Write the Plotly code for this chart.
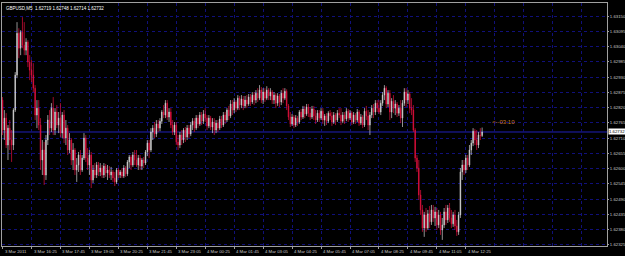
import plotly.graph_objects as go

symbol = "GBPUSD,M5"
countdown_text = "<--03:10"

bar_index = list(range(266))

open_ = [
    1.62847, 1.62739, 1.62782, 1.62685, 1.62746, 1.62703, 1.62685, 1.62811, 1.62937, 1.63088,
    1.63034, 1.63092, 1.63045, 1.63027, 1.63056, 1.62984, 1.62955, 1.62937, 1.62890, 1.62793,
    1.62818, 1.62757, 1.62631, 1.62667, 1.62577, 1.62703, 1.62775, 1.62746, 1.62818, 1.62739,
    1.62804, 1.62757, 1.62782, 1.62728, 1.62793, 1.62710, 1.62746, 1.62667, 1.62703, 1.62631,
    1.62667, 1.62595, 1.62613, 1.62649, 1.62595, 1.62638, 1.62710, 1.62638, 1.62613, 1.62649,
    1.62559, 1.62595, 1.62577, 1.62613, 1.62588, 1.62602, 1.62577, 1.62609, 1.62584, 1.62595,
    1.62577, 1.62588, 1.62566, 1.62552, 1.62595, 1.62577, 1.62588, 1.62573, 1.62602, 1.62581,
    1.62624, 1.62642, 1.62613, 1.62649, 1.62631, 1.62613, 1.62638, 1.62609, 1.62631, 1.62620,
    1.62660, 1.62692, 1.62667, 1.62732, 1.62746, 1.62725, 1.62761, 1.62746, 1.62771, 1.62804,
    1.62793, 1.62836, 1.62786, 1.62804, 1.62757, 1.62732, 1.62757, 1.62696, 1.62685, 1.62721,
    1.62703, 1.62739, 1.62714, 1.62746, 1.62725, 1.62757, 1.62771, 1.62746, 1.62782, 1.62761,
    1.62793, 1.62771, 1.62797, 1.62782, 1.62754, 1.62782, 1.62750, 1.62768, 1.62739, 1.62764,
    1.62746, 1.62779, 1.62757, 1.62793, 1.62775, 1.62811, 1.62790, 1.62833, 1.62811, 1.62840,
    1.62818, 1.62854, 1.62829, 1.62851, 1.62826, 1.62847, 1.62833, 1.62858, 1.62840, 1.62865,
    1.62847, 1.62872, 1.62854, 1.62883, 1.62847, 1.62876, 1.62854, 1.62883, 1.62862, 1.62876,
    1.62847, 1.62865, 1.62836, 1.62862, 1.62840, 1.62872, 1.62854, 1.62879, 1.62826, 1.62786,
    1.62761, 1.62786, 1.62757, 1.62782, 1.62768, 1.62804, 1.62786, 1.62815, 1.62797, 1.62822,
    1.62800, 1.62786, 1.62815, 1.62790, 1.62775, 1.62800, 1.62782, 1.62807, 1.62775, 1.62790,
    1.62771, 1.62800, 1.62790, 1.62768, 1.62793, 1.62775, 1.62800, 1.62793, 1.62771, 1.62793,
    1.62779, 1.62807, 1.62782, 1.62800, 1.62768, 1.62793, 1.62775, 1.62804, 1.62764, 1.62786,
    1.62757, 1.62807, 1.62790, 1.62757, 1.62793, 1.62818, 1.62804, 1.62836, 1.62818, 1.62804,
    1.62836, 1.62865, 1.62890, 1.62833, 1.62872, 1.62804, 1.62843, 1.62818, 1.62833, 1.62800,
    1.62818, 1.62782, 1.62836, 1.62876, 1.62847, 1.62869, 1.62818, 1.62811, 1.62739, 1.62638,
    1.62602, 1.62505, 1.62451, 1.62386, 1.62433, 1.62386, 1.62437, 1.62408, 1.62451, 1.62422,
    1.62444, 1.62397, 1.62433, 1.62379, 1.62397, 1.62444, 1.62415, 1.62458, 1.62422, 1.62401,
    1.62433, 1.62393, 1.62372, 1.62433, 1.62588, 1.62613, 1.62595, 1.62638, 1.62613, 1.62667,
    1.62692, 1.62735, 1.62703, 1.62685, 1.62721, 1.62719,
]

high = [
    1.62858, 1.62811, 1.62800, 1.62757, 1.62775, 1.62739, 1.62818, 1.62948, 1.63128, 1.63106,
    1.63099, 1.63146, 1.63128, 1.63070, 1.63063, 1.63009, 1.62991, 1.62980, 1.62901, 1.62847,
    1.62847, 1.62782, 1.62703, 1.62696, 1.62721, 1.62793, 1.62811, 1.62836, 1.62858, 1.62818,
    1.62829, 1.62804, 1.62836, 1.62804, 1.62811, 1.62775, 1.62757, 1.62728, 1.62710, 1.62692,
    1.62674, 1.62638, 1.62660, 1.62667, 1.62649, 1.62728, 1.62721, 1.62674, 1.62667, 1.62660,
    1.62613, 1.62620, 1.62624, 1.62624, 1.62620, 1.62613, 1.62620, 1.62617, 1.62613, 1.62609,
    1.62606, 1.62595, 1.62588, 1.62602, 1.62602, 1.62595, 1.62602, 1.62613, 1.62609, 1.62631,
    1.62649, 1.62649, 1.62660, 1.62667, 1.62667, 1.62649, 1.62649, 1.62638, 1.62642, 1.62667,
    1.62703, 1.62703, 1.62746, 1.62757, 1.62768, 1.62775, 1.62775, 1.62782, 1.62811, 1.62829,
    1.62847, 1.62847, 1.62818, 1.62818, 1.62775, 1.62768, 1.62768, 1.62721, 1.62732, 1.62739,
    1.62746, 1.62750, 1.62757, 1.62757, 1.62768, 1.62782, 1.62782, 1.62793, 1.62793, 1.62804,
    1.62804, 1.62811, 1.62818, 1.62793, 1.62793, 1.62790, 1.62782, 1.62782, 1.62775, 1.62775,
    1.62790, 1.62790, 1.62804, 1.62804, 1.62818, 1.62826, 1.62847, 1.62847, 1.62854, 1.62847,
    1.62865, 1.62862, 1.62865, 1.62862, 1.62862, 1.62865, 1.62869, 1.62869, 1.62876, 1.62876,
    1.62883, 1.62890, 1.62901, 1.62894, 1.62890, 1.62890, 1.62897, 1.62890, 1.62890, 1.62883,
    1.62876, 1.62872, 1.62872, 1.62869, 1.62883, 1.62890, 1.62890, 1.62886, 1.62833, 1.62804,
    1.62797, 1.62793, 1.62793, 1.62790, 1.62811, 1.62815, 1.62826, 1.62826, 1.62833, 1.62833,
    1.62822, 1.62826, 1.62826, 1.62811, 1.62811, 1.62811, 1.62818, 1.62818, 1.62797, 1.62800,
    1.62807, 1.62811, 1.62804, 1.62804, 1.62800, 1.62811, 1.62818, 1.62818, 1.62804, 1.62804,
    1.62818, 1.62815, 1.62811, 1.62807, 1.62804, 1.62800, 1.62815, 1.62811, 1.62797, 1.62793,
    1.62818, 1.62826, 1.62811, 1.62804, 1.62829, 1.62833, 1.62847, 1.62847, 1.62847, 1.62847,
    1.62876, 1.62901, 1.62897, 1.62883, 1.62883, 1.62854, 1.62865, 1.62847, 1.62840, 1.62829,
    1.62847, 1.62847, 1.62890, 1.62890, 1.62883, 1.62876, 1.62854, 1.62829, 1.62746, 1.62649,
    1.62631, 1.62523, 1.62469, 1.62444, 1.62458, 1.62451, 1.62465, 1.62469, 1.62469, 1.62462,
    1.62458, 1.62451, 1.62444, 1.62422, 1.62458, 1.62469, 1.62469, 1.62476, 1.62451, 1.62444,
    1.62451, 1.62415, 1.62444, 1.62602, 1.62631, 1.62631, 1.62649, 1.62649, 1.62685, 1.62703,
    1.62746, 1.62743, 1.62739, 1.62732, 1.62746, 1.62748,
]

low = [
    1.62721, 1.62703, 1.62674, 1.62631, 1.62667, 1.62624, 1.62667, 1.62804, 1.62926, 1.62998,
    1.63009, 1.63034, 1.63009, 1.63009, 1.62966, 1.62919, 1.62912, 1.62876, 1.62775, 1.62746,
    1.62739, 1.62595, 1.62577, 1.62541, 1.62559, 1.62685, 1.62721, 1.62732, 1.62721, 1.62721,
    1.62746, 1.62728, 1.62714, 1.62710, 1.62692, 1.62685, 1.62649, 1.62656, 1.62613, 1.62595,
    1.62577, 1.62552, 1.62588, 1.62577, 1.62588, 1.62631, 1.62624, 1.62595, 1.62577, 1.62530,
    1.62548, 1.62566, 1.62566, 1.62573, 1.62573, 1.62566, 1.62566, 1.62570, 1.62559, 1.62566,
    1.62559, 1.62552, 1.62537, 1.62545, 1.62566, 1.62566, 1.62566, 1.62566, 1.62570, 1.62573,
    1.62602, 1.62595, 1.62606, 1.62613, 1.62606, 1.62595, 1.62595, 1.62595, 1.62602, 1.62613,
    1.62645, 1.62638, 1.62660, 1.62703, 1.62710, 1.62714, 1.62732, 1.62735, 1.62761, 1.62782,
    1.62782, 1.62775, 1.62768, 1.62746, 1.62721, 1.62721, 1.62685, 1.62667, 1.62674, 1.62685,
    1.62692, 1.62696, 1.62703, 1.62710, 1.62717, 1.62739, 1.62732, 1.62739, 1.62746, 1.62754,
    1.62757, 1.62761, 1.62768, 1.62739, 1.62746, 1.62739, 1.62728, 1.62721, 1.62728, 1.62732,
    1.62739, 1.62746, 1.62750, 1.62761, 1.62768, 1.62775, 1.62782, 1.62793, 1.62800, 1.62804,
    1.62811, 1.62811, 1.62818, 1.62811, 1.62818, 1.62818, 1.62826, 1.62826, 1.62833, 1.62829,
    1.62836, 1.62840, 1.62847, 1.62836, 1.62833, 1.62840, 1.62847, 1.62847, 1.62847, 1.62833,
    1.62833, 1.62818, 1.62826, 1.62822, 1.62829, 1.62836, 1.62847, 1.62811, 1.62775, 1.62750,
    1.62754, 1.62746, 1.62750, 1.62754, 1.62761, 1.62775, 1.62779, 1.62782, 1.62790, 1.62786,
    1.62775, 1.62779, 1.62775, 1.62761, 1.62768, 1.62768, 1.62775, 1.62761, 1.62754, 1.62757,
    1.62764, 1.62775, 1.62754, 1.62761, 1.62757, 1.62768, 1.62782, 1.62757, 1.62764, 1.62761,
    1.62771, 1.62768, 1.62775, 1.62757, 1.62761, 1.62761, 1.62768, 1.62754, 1.62757, 1.62746,
    1.62750, 1.62775, 1.62739, 1.62721, 1.62782, 1.62782, 1.62793, 1.62804, 1.62797, 1.62793,
    1.62826, 1.62847, 1.62818, 1.62822, 1.62775, 1.62782, 1.62800, 1.62793, 1.62786, 1.62790,
    1.62764, 1.62750, 1.62826, 1.62822, 1.62833, 1.62800, 1.62793, 1.62732, 1.62624, 1.62588,
    1.62487, 1.62433, 1.62372, 1.62354, 1.62372, 1.62379, 1.62386, 1.62397, 1.62408, 1.62393,
    1.62379, 1.62386, 1.62361, 1.62343, 1.62386, 1.62397, 1.62404, 1.62408, 1.62386, 1.62390,
    1.62379, 1.62357, 1.62361, 1.62422, 1.62559, 1.62577, 1.62584, 1.62595, 1.62606, 1.62649,
    1.62681, 1.62685, 1.62667, 1.62674, 1.62703, 1.62714,
]

close = [
    1.62739, 1.62782, 1.62685, 1.62746, 1.62703, 1.62685, 1.62811, 1.62937, 1.63088, 1.63034,
    1.63092, 1.63045, 1.63027, 1.63056, 1.62984, 1.62955, 1.62937, 1.62890, 1.62793, 1.62818,
    1.62757, 1.62631, 1.62667, 1.62577, 1.62703, 1.62775, 1.62746, 1.62818, 1.62739, 1.62804,
    1.62757, 1.62782, 1.62728, 1.62793, 1.62710, 1.62746, 1.62667, 1.62703, 1.62631, 1.62667,
    1.62595, 1.62613, 1.62649, 1.62595, 1.62638, 1.62710, 1.62638, 1.62613, 1.62649, 1.62559,
    1.62595, 1.62577, 1.62613, 1.62588, 1.62602, 1.62577, 1.62609, 1.62584, 1.62595, 1.62577,
    1.62588, 1.62566, 1.62552, 1.62595, 1.62577, 1.62588, 1.62573, 1.62602, 1.62581, 1.62624,
    1.62642, 1.62613, 1.62649, 1.62631, 1.62613, 1.62638, 1.62609, 1.62631, 1.62620, 1.62660,
    1.62692, 1.62667, 1.62732, 1.62746, 1.62725, 1.62761, 1.62746, 1.62771, 1.62804, 1.62793,
    1.62836, 1.62786, 1.62804, 1.62757, 1.62732, 1.62757, 1.62696, 1.62685, 1.62721, 1.62703,
    1.62739, 1.62714, 1.62746, 1.62725, 1.62757, 1.62771, 1.62746, 1.62782, 1.62761, 1.62793,
    1.62771, 1.62797, 1.62782, 1.62754, 1.62782, 1.62750, 1.62768, 1.62739, 1.62764, 1.62746,
    1.62779, 1.62757, 1.62793, 1.62775, 1.62811, 1.62790, 1.62833, 1.62811, 1.62840, 1.62818,
    1.62854, 1.62829, 1.62851, 1.62826, 1.62847, 1.62833, 1.62858, 1.62840, 1.62865, 1.62847,
    1.62872, 1.62854, 1.62883, 1.62847, 1.62876, 1.62854, 1.62883, 1.62862, 1.62876, 1.62847,
    1.62865, 1.62836, 1.62862, 1.62840, 1.62872, 1.62854, 1.62879, 1.62826, 1.62786, 1.62761,
    1.62786, 1.62757, 1.62782, 1.62768, 1.62804, 1.62786, 1.62815, 1.62797, 1.62822, 1.62800,
    1.62786, 1.62815, 1.62790, 1.62775, 1.62800, 1.62782, 1.62807, 1.62775, 1.62790, 1.62771,
    1.62800, 1.62790, 1.62768, 1.62793, 1.62775, 1.62800, 1.62793, 1.62771, 1.62793, 1.62779,
    1.62807, 1.62782, 1.62800, 1.62768, 1.62793, 1.62775, 1.62804, 1.62764, 1.62786, 1.62757,
    1.62807, 1.62790, 1.62757, 1.62793, 1.62818, 1.62804, 1.62836, 1.62818, 1.62804, 1.62836,
    1.62865, 1.62890, 1.62833, 1.62872, 1.62804, 1.62843, 1.62818, 1.62833, 1.62800, 1.62818,
    1.62782, 1.62836, 1.62876, 1.62847, 1.62869, 1.62818, 1.62811, 1.62739, 1.62638, 1.62602,
    1.62505, 1.62451, 1.62386, 1.62433, 1.62386, 1.62437, 1.62408, 1.62451, 1.62422, 1.62444,
    1.62397, 1.62433, 1.62379, 1.62397, 1.62444, 1.62415, 1.62458, 1.62422, 1.62401, 1.62433,
    1.62393, 1.62372, 1.62433, 1.62588, 1.62613, 1.62595, 1.62638, 1.62613, 1.62667, 1.62692,
    1.62735, 1.62703, 1.62685, 1.62721, 1.62719, 1.62732,
]

time_tick_bars = [0, 16, 32, 48, 64, 80, 96, 112, 128, 144, 160, 176, 192, 208, 224, 240, 256]
time_tick_text = [
    "3 Mar 2011", "3 Mar 16:25", "3 Mar 17:45", "3 Mar 19:05", "3 Mar 20:25",
    "3 Mar 21:45", "3 Mar 23:05", "4 Mar 00:25", "4 Mar 01:45", "4 Mar 03:05",
    "4 Mar 04:25", "4 Mar 05:45", "4 Mar 07:05", "4 Mar 08:25", "4 Mar 09:45",
    "4 Mar 11:05", "4 Mar 12:25",
]
future_grid_bars = [272, 288, 304, 320]

price_ticks = [
    1.62325, 1.62380, 1.62435, 1.62490, 1.62545, 1.62600, 1.62655, 1.62710,
    1.62765, 1.62820, 1.62875, 1.62930, 1.62985, 1.63040, 1.63095, 1.63150,
]
price_range = [1.62321, 1.63197]
bar_range = [-0.3, 334.0]

GRID = "#10107a"
FRAME = "#a0a0a0"
TXT = "#c8c8c8"
FONT = "Liberation Sans, Arial, sans-serif"

fig = go.Figure(
    go.Candlestick(
        x=bar_index, open=open_, high=high, low=low, close=close,
        increasing=dict(line=dict(color="#d0d0d0", width=0.7), fillcolor="#ffffff"),
        decreasing=dict(line=dict(color="#e0103c", width=0.7), fillcolor="#ff1744"),
        whiskerwidth=0, hoverinfo="skip", showlegend=False,
    )
)

# Bid line
fig.add_shape(type="line", xref="paper", x0=0, x1=1, yref="y",
              y0=close[-1], y1=close[-1], line=dict(color="#2020b8", width=1), layer="below")

fig.update_layout(
    width=625, height=256,
    margin=dict(l=2, r=18, t=3, b=10, autoexpand=False),
    paper_bgcolor="#000000", plot_bgcolor="#000000",
    font=dict(family=FONT, size=4.5, color=TXT),
    showlegend=False,
    boxgap=0.5,
    xaxis=dict(
        range=bar_range, rangeslider=dict(visible=False), automargin=False,
        tickmode="array", tickvals=time_tick_bars, showticklabels=False,
        ticks="outside", ticklen=2, tickcolor=FRAME, tickwidth=1,
        showgrid=True, gridcolor=GRID, griddash="dot", gridwidth=1,
        minor=dict(tickmode="array", tickvals=future_grid_bars, showgrid=True,
                   gridcolor=GRID, griddash="dot", gridwidth=1, ticks=""),
        showline=True, mirror=True, linecolor=FRAME, linewidth=1,
        zeroline=False, fixedrange=True,
    ),
    yaxis=dict(
        side="right", range=price_range, automargin=False,
        tickmode="array", tickvals=price_ticks,
        ticktext=[f"{v:.5f}" for v in price_ticks],
        ticks="outside", ticklen=1, tickcolor=FRAME,
        tickfont=dict(size=4.3, color=TXT, family=FONT),
        showgrid=True, gridcolor=GRID, griddash="dot", gridwidth=1,
        showline=True, mirror=True, linecolor=FRAME, linewidth=1,
        zeroline=False, fixedrange=True,
    ),
)

# Time labels, left-aligned at their ticks as in the terminal
for b, t in zip(time_tick_bars, time_tick_text):
    fig.add_annotation(
        xref="x", yref="paper", x=b, y=0, xanchor="left", yanchor="top",
        xshift=0, yshift=-1, showarrow=False, text=t,
        font=dict(size=4.3, color=TXT, family=FONT),
    )

# Header text: symbol and OHLC of last bar
fig.add_annotation(
    xref="paper", yref="paper", x=0, y=1, xanchor="left", yanchor="top",
    xshift=2, yshift=-1, showarrow=False,
    text=f"{symbol}  {open_[-1]:.5f} {high[-1]:.5f} {low[-1]:.5f} {close[-1]:.5f}",
    font=dict(size=4.5, color="#ffffff", family=FONT),
)

# Current price label on the axis
fig.add_annotation(
    xref="paper", yref="y", x=1, y=close[-1], xanchor="left", yanchor="middle",
    xshift=1, showarrow=False, text=f"{close[-1]:.5f}",
    bgcolor="#ffffff", borderpad=0,
    font=dict(size=4.3, color="#000000", family=FONT),
)

# Bar countdown
fig.add_annotation(
    xref="x", yref="y", x=269.4, y=1.62768, xanchor="left", yanchor="middle",
    showarrow=False, text=countdown_text,
    font=dict(size=6, color="#c8782d", family=FONT),
)

fig.write_html("out.html")
